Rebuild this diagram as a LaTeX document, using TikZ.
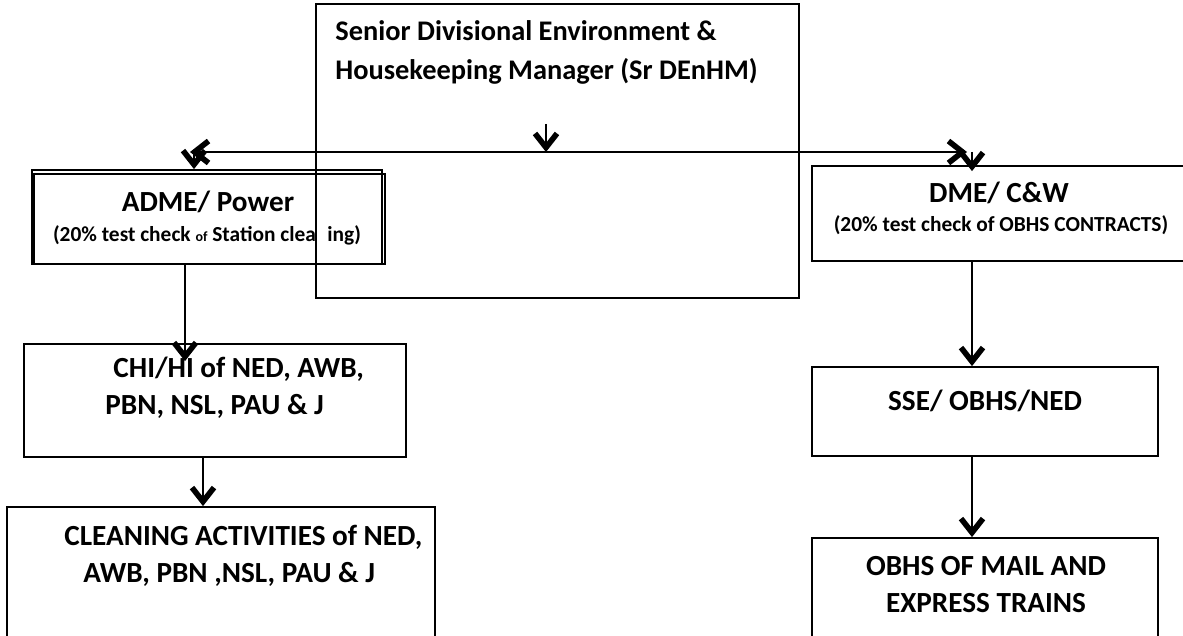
\documentclass[tikz,border=0pt]{standalone}
\usepackage{fontspec}
\setmainfont{Carlito}
\usetikzlibrary{arrows.meta, fit, positioning}

\begin{document}
\begin{tikzpicture}[x=0.5pt, y=-0.5pt,
    box/.style={draw, line width=0.9pt, inner sep=0pt},
    big/.style={font=\bfseries\fontsize{14.6}{18.5}\selectfont, align=left, inner sep=0pt},
    small/.style={font=\bfseries\fontsize{10.7}{12}\selectfont, inner sep=0pt},
    tip/.tip={Straight Barb[length=7pt, width=11pt, line width=2.8pt]},
    ln/.style={line width=0.65pt},
    arr/.style={ln, -tip}]

        % Khung trang
        \useasboundingbox (0,0) rectangle (1183,636);

        % Vẽ các khung
        \node[box, fit={(316,4) (799,298)}] (sr) {}; % Sr DEnHM
        \node[box, fit={(32,170) (382,264)}] (adme) {}; % ADME
        \node[box, fit={(34,174) (385,264)}] (admeb) {}; % khung đôi
        \node[box, fit={(812,166) (1190,261)}] (dme) {}; % DME
        \node[box, fit={(24,344) (406,457)}] (chi) {}; % CHI/HI
        \node[box, fit={(7,507) (435,660)}] (clean) {}; % Cleaning
        \node[box, fit={(812,367) (1158,456)}] (sse) {}; % SSE
        \node[box, fit={(812,538) (1158,660)}] (obhs) {}; % OBHS

        % Chữ trong khung (base = dòng cuối)
        \node[big, font=\bfseries\fontsize{14.2}{19.5}\selectfont, anchor=base west] (srt) at (335,80) {Senior Divisional Environment \&\\Housekeeping Manager (Sr DEnHM)};
        \node[big, anchor=base] (admet) at (208,212) {ADME/ Power};
        \node[small, anchor=base] (admen) at (207,242) {(20\% test check {\fontsize{7}{8}\selectfont of} Station clea\phantom{n}ing)};
        \node[big, anchor=base] (dmet) at (999,203) {DME/ C\&W};
        \node[small, anchor=base] (dmen) at (1001,232) {(20\% test check of OBHS CONTRACTS)};
        \node[big, anchor=base west] (chit) at (105,414) {\hspace{4pt}CHI/HI of NED, AWB,\\PBN, NSL, PAU \& J};
        \node[big, anchor=base west] (cleant) at (64,582) {CLEANING ACTIVITIES of NED,\\\hspace{9.5pt}AWB, PBN ,NSL, PAU \& J};
        \node[big, anchor=base] (sset) at (985,410) {SSE/ OBHS/NED};
        \node[big, align=center, anchor=base] (obhst) at (986,612) {OBHS OF MAIL AND\\EXPRESS TRAINS};

        % Điểm nối
        \coordinate (tap) at (546,124);
        \coordinate (hub) at (546,152);
        \coordinate (hubL) at (190,152);
        \coordinate (hubR) at (967,152);
        \coordinate (downL) at (194,152);
        \coordinate (downR) at (972,152);
        \coordinate (xl) at (185,0);
        \coordinate (xm) at (203,0);
        \coordinate (xr) at (972,0);

        % Vẽ mũi tên
        \draw[arr] (tap) -- (hub); % xuống trục ngang
        \draw[ln, tip-tip] (hubL) -- (hubR); % trục ngang
        \draw[arr] (downL) -- (adme.north -| downL); % tới ADME
        \draw[arr, shorten >=-3pt] (downR) -- (dme.north -| downR); % tới DME
        \draw[arr, shorten >=-9pt] (adme.south -| xl) -- (chi.north -| xl); % tới CHI/HI
        \draw[arr] (chi.south -| xm) -- (clean.north -| xm); % tới Cleaning
        \draw[arr] (dme.south -| xr) -- (sse.north -| xr); % tới SSE
        \draw[arr] (sse.south -| xr) -- (obhs.north -| xr); % tới OBHS

\end{tikzpicture}
\end{document}
